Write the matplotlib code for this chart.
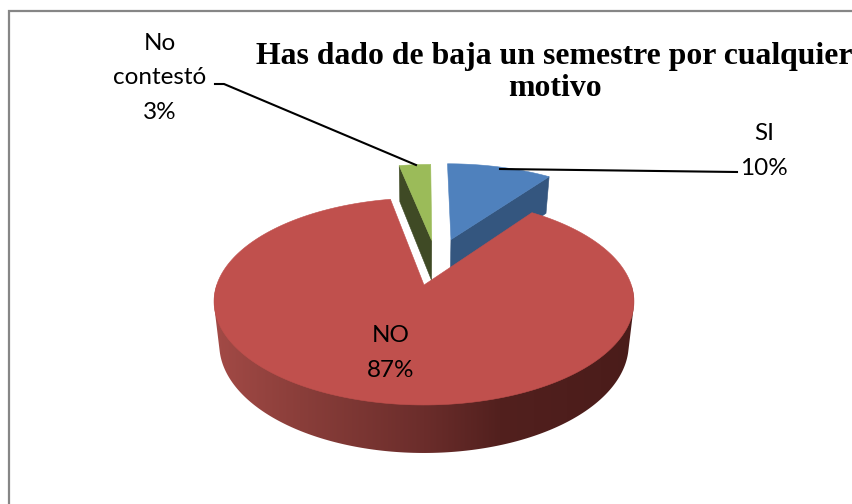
import numpy as np
import matplotlib
matplotlib.use("Agg")
import matplotlib.pyplot as plt
from matplotlib.patches import Polygon

categories = ["SI", "NO", "No\ncontestó"]
values = [10, 87, 3]
title = "Has dado de baja un semestre por cualquier\nmotivo"

top_colors = ["#4f81bd", "#c0504d", "#9bbb59"]
side_colors = ["#34567f", "#7a3230", "#3f4a25"]

# wedge offset in plane units (pie radius = 1), relative to the NO apex
offsets = [(0.14, 0.485), (0.0, 0.0), (0.04, 0.475)]

OX, OY = 424.0, 285.0
R, A, K = 207.3, 100.9, 0.159


def project(u, v):
    s = 1.0 / (1.0 + K * v)
    return OX + R * u * s, OY - A * v * s


def lower(x, y):
    return OX + 0.975 * (x - OX), 1.05 * y + 27.75


def wedge(a0, a1, off, n=240):
    t = np.radians(np.linspace(a0, a1, n))
    return project(off[0] + np.sin(t), off[1] + np.cos(t)), t


def hull(points):
    pts = sorted(set(map(tuple, points)))

    def half(seq):
        out = []
        for p in seq:
            while len(out) > 1 and ((out[-1][0] - out[-2][0]) * (p[1] - out[-2][1])
                                    - (out[-1][1] - out[-2][1]) * (p[0] - out[-2][0])) <= 0:
                out.pop()
            out.append(p)
        return out[:-1]

    return np.array(half(pts) + half(pts[::-1]))


fig = plt.figure(figsize=(8.52, 5.04), dpi=100, facecolor="white")
ax = fig.add_axes([0, 0, 1, 1])
ax.set_xlim(0, 852)
ax.set_ylim(504, 0)
ax.axis("off")

ax.plot([9, 9, 860], [510, 11, 11], color="#868686", lw=1.6, solid_joinstyle="miter", zorder=1)

total = sum(values)
edges = np.concatenate([[0], np.cumsum(values)]) / total * 360.0
spans = list(zip(edges[:-1], edges[1:]))


def radial_side(i, angle):
    off = offsets[i]
    ax_, ay_ = project(off[0], off[1])
    t = np.radians(angle)
    ex, ey = project(off[0] + np.sin(t), off[1] + np.cos(t))
    pts = [(ax_, ay_), (ex, ey), lower(ex, ey), lower(ax_, ay_)]
    ax.add_patch(Polygon(pts, closed=True, fc=side_colors[i], ec=side_colors[i], lw=0.4, zorder=3))


def top_face(i, z):
    a0, a1 = spans[i]
    off = offsets[i]
    (xs, ys), _ = wedge(a0, a1, off)
    apex = project(off[0], off[1])
    pts = np.column_stack([np.r_[apex[0], xs], np.r_[apex[1], ys]])
    ax.add_patch(Polygon(pts, closed=True, fc=top_colors[i], ec=top_colors[i], lw=0.4, zorder=z))


# No contestó
radial_side(2, spans[2][0])
top_face(2, 4)
# SI
radial_side(0, spans[0][1])
top_face(0, 4)

# NO rim with a left-to-right shading, clipped to the rim outline
(xs, ys), t = wedge(spans[1][0], spans[1][1], offsets[1], n=420)
front = np.cos(t) < 0.0
bx, by = lower(xs[front], ys[front])
outline = hull(np.column_stack([np.r_[xs[front], bx], np.r_[ys[front], by]]))
rim = Polygon(outline, closed=True, fc="none", ec="none", transform=ax.transData)
ax.add_patch(rim)
stops_x = [214, 300, 424, 500, 634]
stops_c = np.array([[0xa3, 0x4a, 0x46], [0x8a, 0x3e, 0x3a], [0x6b, 0x2d, 0x2b],
                    [0x52, 0x20, 0x1e], [0x4a, 0x1c, 0x1a]]) / 255.0
gx = np.arange(205, 645)
grad = np.stack([np.interp(gx, stops_x, stops_c[:, k]) for k in range(3)], axis=-1)[None, :, :]
im = ax.imshow(grad, extent=(205, 645, 470, 190), aspect="auto", zorder=5, interpolation="bilinear")
im.set_clip_path(rim)
ax.set_xlim(0, 852)
ax.set_ylim(504, 0)
top_face(1, 6)

# Leader lines
ax.plot([215, 224, 416], [84, 84, 165], color="black", lw=1.5, zorder=7)
ax.plot([500, 737], [169, 172], color="black", lw=1.5, zorder=7)

font = ["Lato", "DejaVu Sans"]
fs = 17.5
ls = 1.78
labels = [f"{c}\n{v}%" for c, v in zip(categories, values)]
ax.text(764, 151, labels[0], ha="center", va="center", fontsize=fs, family=font, linespacing=ls, zorder=8)
ax.text(391, 353, labels[1], ha="center", va="center", fontsize=fs, family=font, linespacing=ls, zorder=8)
ax.text(160, 78, labels[2], ha="center", va="center", fontsize=fs, family=font, linespacing=ls, zorder=8)

ax.text(554.5, 72.5, title, ha="center", va="center", fontsize=22.9, fontweight="bold",
        family=["Liberation Serif"], linespacing=1.17, zorder=8)

fig.savefig("out.png", dpi=100, facecolor="white")
